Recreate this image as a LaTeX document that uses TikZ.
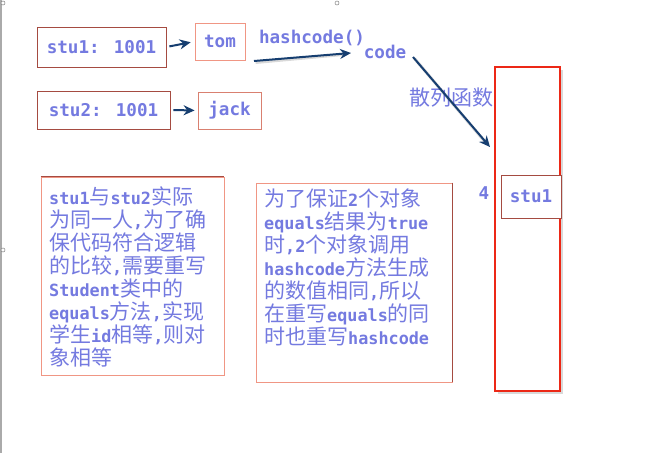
\documentclass[tikz,border=0pt]{standalone}
\usepackage{fontspec}
\newfontfamily\cjk{Noto Sans CJK SC}
\newfontfamily\monof{DejaVu Sans Mono}
\usetikzlibrary{arrows.meta}
\definecolor{txt}{RGB}{116,122,224}
\definecolor{navy}{RGB}{22,62,112}
\definecolor{darkred}{RGB}{165,75,65}
\definecolor{salmon}{RGB}{240,150,132}
\definecolor{bred}{RGB}{236,40,22}
\definecolor{framegray}{RGB}{170,170,170}
\newcommand\M[1]{{\monof\bfseries\fontsize{16.8}{23}\selectfont #1}}
\tikzset{
  lbox/.style={draw=darkred, line width=0.8pt, inner sep=0pt, text=txt,
    font=\monof\bfseries\fontsize{17.6}{20}\selectfont},
  plainlabel/.style={inner sep=0pt, text=txt, font=\monof\bfseries\fontsize{17.6}{20}\selectfont},
  tbox/.style={draw=salmon, line width=0.8pt, inner sep=0pt},
  para/.style={inner sep=0pt, text=txt, align=left, font=\cjk\fontsize{21}{23}\selectfont},
  arr/.style={draw=navy, line width=2pt, -{Stealth[length=11pt,width=10pt]}},
  arrshadow/.style={draw=black, opacity=0.15, line width=3pt},
  handle/.style={circle, draw=gray, line width=0.5pt, inner sep=0pt, minimum size=4pt, fill=white}
}
\begin{document}
\begin{tikzpicture}[x=1pt,y=-1pt]
\useasboundingbox (0,0) rectangle (664,453);
\fill[white] (0,0) rectangle (664,453);
% frame of the screenshot
\draw[framegray, line width=1.2pt] (1,0) -- (1,453);
\node[handle] (hd1) at (3,3) {};
\node[handle] (hd2) at (337,3) {};
\node[handle] (hd3) at (3,250) {};

% top boxes
\node[lbox, minimum width=129pt, minimum height=40pt] (s1) at (101.5,47) {stu1: 1001};
\node[lbox, draw=salmon, minimum width=50pt, minimum height=37pt] (tom) at (220,41.5) {tom};
\node[lbox, minimum width=133pt, minimum height=38pt] (s2) at (103.5,110) {stu2: 1001};
\node[lbox, draw=salmon!70!darkred, minimum width=63pt, minimum height=37pt] (jack) at (229.5,110.5) {jack};

\node[plainlabel] (hc) at (312,38) {hashcode()};
\node[plainlabel] (code) at (385,52) {code};
\node[inner sep=0pt, text=txt, font=\cjk\fontsize{21}{23}\selectfont] (hf) at (451,98) {散列函数};

% bucket
\fill[black, opacity=0.15] (498,70) rectangle (563,394);
\node[draw=bred, line width=2.4pt, fill=white, minimum width=65pt, minimum height=324pt, inner sep=0pt] (bucket) at (527.5,229) {};
\node[lbox, fill=white, minimum width=60pt, minimum height=43pt] (slot) at (531,196.5) {stu1};
\node[plainlabel] (four) at (484,193) {4};

% arrows
\coordinate (h1) at (254,61);
\coordinate (h1e) at (351,53);
\coordinate (h2) at (413,57);
\coordinate (h3) at (490,147);
\draw[arrshadow] ([shift={(1.5,1.5)}]h1) -- ([shift={(-8,1.5)}]h1e);
\draw[arrshadow] ([shift={(1.5,1.5)}]h2) -- ([shift={(-4,-4)}]h3);
\draw[arr, shorten <=3pt, shorten >=4pt] (s1.east) -- (tom.west);
\draw[arr, shorten <=3pt, shorten >=3pt] (s2.east) -- (jack.west);
\draw[arr] (h1) -- (h1e);
\draw[arr] (h2) -- (h3);

% text boxes
\node[tbox, minimum width=183pt, minimum height=198pt] (lt) at (132.5,276) {};
\draw[darkred, line width=0.8pt] (lt.north west) -- (lt.north east);
\node[para, anchor=north west] (ltx) at (49,186.5) {%
\M{stu1}与\M{stu2}实际\\
为同一人\M{,}为了确\\
保代码符合逻辑\\
的比较\M{,}需要重写\\
\M{Student}类中的\\
\M{equals}方法\M{,}实现\\
学生\M{id}相等\M{,}则对\\
象相等};

\node[tbox, minimum width=196pt, minimum height=199pt] (rt) at (354,282.5) {};
\draw[darkred, line width=0.8pt] (rt.north east) -- (rt.south east);
\node[para, anchor=north west] (rtx) at (264,188.5) {%
为了保证\M{2}个对象\\
\M{equals}结果为\M{true}\\
时\M{,2}个对象调用\\
\M{hashcode}方法生成\\
的数值相同\M{,}所以\\
在重写\M{equals}的同\\
时也重写\M{hashcode}};
\end{tikzpicture}
\end{document}
